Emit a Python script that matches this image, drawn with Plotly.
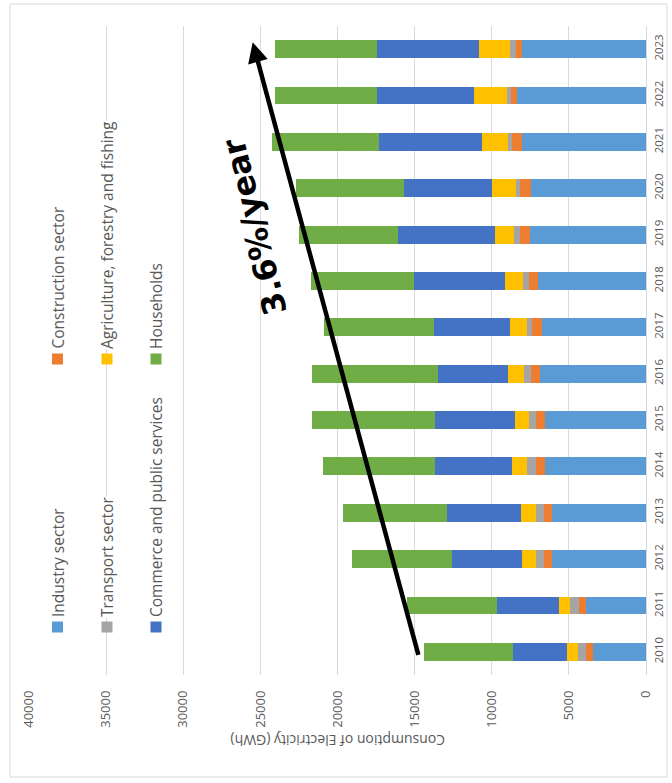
import plotly.graph_objects as go

# Electricity consumption by sector, GWh
years = list(range(2010, 2024))
industry = [3420, 3920, 6100, 6100, 6580, 6580, 6840, 6770, 6970, 7510, 7460, 8050, 8350, 8050]
construction = [500, 450, 540, 540, 560, 520, 630, 650, 610, 690, 740, 630, 370, 390]
transport = [520, 580, 500, 500, 560, 480, 430, 320, 410, 390, 260, 280, 320, 390]
agriculture = [680, 710, 910, 970, 1000, 910, 1040, 1080, 1150, 1170, 1540, 1670, 2120, 1990]
commerce = [3520, 3980, 4500, 4820, 4950, 5170, 4560, 4950, 5880, 6320, 5690, 6660, 6290, 6640]
households = [5780, 5860, 6490, 6730, 7290, 7980, 8130, 7120, 6710, 6420, 7030, 6970, 6600, 6600]

series_names = ["Industry sector", "Construction sector", "Transport sector",
                "Agriculture, forestry and fishing", "Commerce and public services", "Households"]
series_values = [industry, construction, transport, agriculture, commerce, households]
series_colors = ["#5B9BD5", "#ED7D31", "#A5A5A5", "#FFC000", "#4472C4", "#70AD47"]

value_ticks = list(range(0, 40001, 5000))
axis_title = "Consumption of Electricity (GWh)"
growth_label = "3.6%/year"

W, H = 672, 783
L, R, T, B = 29, 26, 26, 108
PW, PH = W - L - R, H - T - B


def px_x(px):
    return (px - L) / PW


def px_y(py):
    return (H - B - py) / PH


fig = go.Figure()
for name, vals, col in zip(series_names, series_values, series_colors):
    fig.add_trace(go.Bar(
        x=vals, y=years, orientation="h", name=name,
        marker=dict(color=col, line=dict(width=0)), width=0.385,
        showlegend=False,
    ))

grey = "#595959"
annotations = []
shapes = []

# legend drawn as rotated text with square swatches
legend_cols = [57.5, 107, 156]
legend_rows = [627, 359]
for i, (name, col) in enumerate(zip(series_names, series_colors)):
    cx = legend_cols[i // 2]
    cy = legend_rows[i % 2]
    shapes.append(dict(type="rect", xref="paper", yref="paper",
                       x0=px_x(cx - 5.5), x1=px_x(cx + 5.5),
                       y0=px_y(cy + 5.5), y1=px_y(cy - 5.5),
                       fillcolor=col, line=dict(width=0), layer="above"))
    annotations.append(dict(text=name, xref="paper", yref="paper",
                            x=px_x(cx), y=px_y(cy - 9), xanchor="center", yanchor="bottom",
                            textangle=-90, showarrow=False, bgcolor="white", borderpad=0,
                            font=dict(family="Open Sans", size=15.5, color=grey)))

# value axis title, upside down under the tick labels
annotations.append(dict(text=axis_title, xref="paper", yref="paper",
                        x=0.5, y=px_y(741), xanchor="center", yanchor="middle",
                        textangle=180, showarrow=False,
                        font=dict(family="Open Sans", size=14, color=grey)))

# trend arrow and growth label
annotations.append(dict(text="", x=25500, y=2023.15, xref="x", yref="y",
                        ax=14730, ay=2009.9, axref="x", ayref="y",
                        showarrow=True, arrowhead=2, arrowsize=0.9, arrowwidth=4.5,
                        arrowcolor="black"))
annotations.append(dict(text="<b>" + growth_label + "</b>", x=25370, y=2019.18, xref="x", yref="y",
                        textangle=-104, showarrow=False, xanchor="center", yanchor="middle",
                        font=dict(family="DejaVu Sans", size=32, color="black")))

# outer chart border
shapes.append(dict(type="rect", xref="paper", yref="paper",
                   x0=px_x(10), x1=px_x(667), y0=px_y(777), y1=px_y(4),
                   line=dict(color="#d9d9d9", width=1), layer="below"))

fig.update_layout(
    width=W, height=H, autosize=False,
    margin=dict(l=L, r=R, t=T, b=B, autoexpand=False),
    barmode="stack",
    plot_bgcolor="white", paper_bgcolor="white",
    font=dict(family="Open Sans", color=grey),
    annotations=annotations, shapes=shapes,
    xaxis=dict(range=[40000, 0], tickvals=value_ticks, ticktext=[str(v) for v in value_ticks],
               tickangle=-90, showgrid=True, gridcolor="#d9d9d9", gridwidth=1,
               zeroline=True, zerolinecolor="#d9d9d9", zerolinewidth=1,
               showline=False, ticks="", ticklabelstandoff=12, automargin=False,
               tickfont=dict(family="Open Sans", size=13, color=grey)),
    yaxis=dict(range=[2009.5, 2023.5], side="right", tickvals=years,
               ticktext=[str(y) for y in years], tickangle=-90,
               showgrid=False, zeroline=False, showline=False, ticks="",
               ticklabelstandoff=4, automargin=False,
               tickfont=dict(family="Open Sans", size=11.5, color=grey)),
)

fig.write_html("out.html")
